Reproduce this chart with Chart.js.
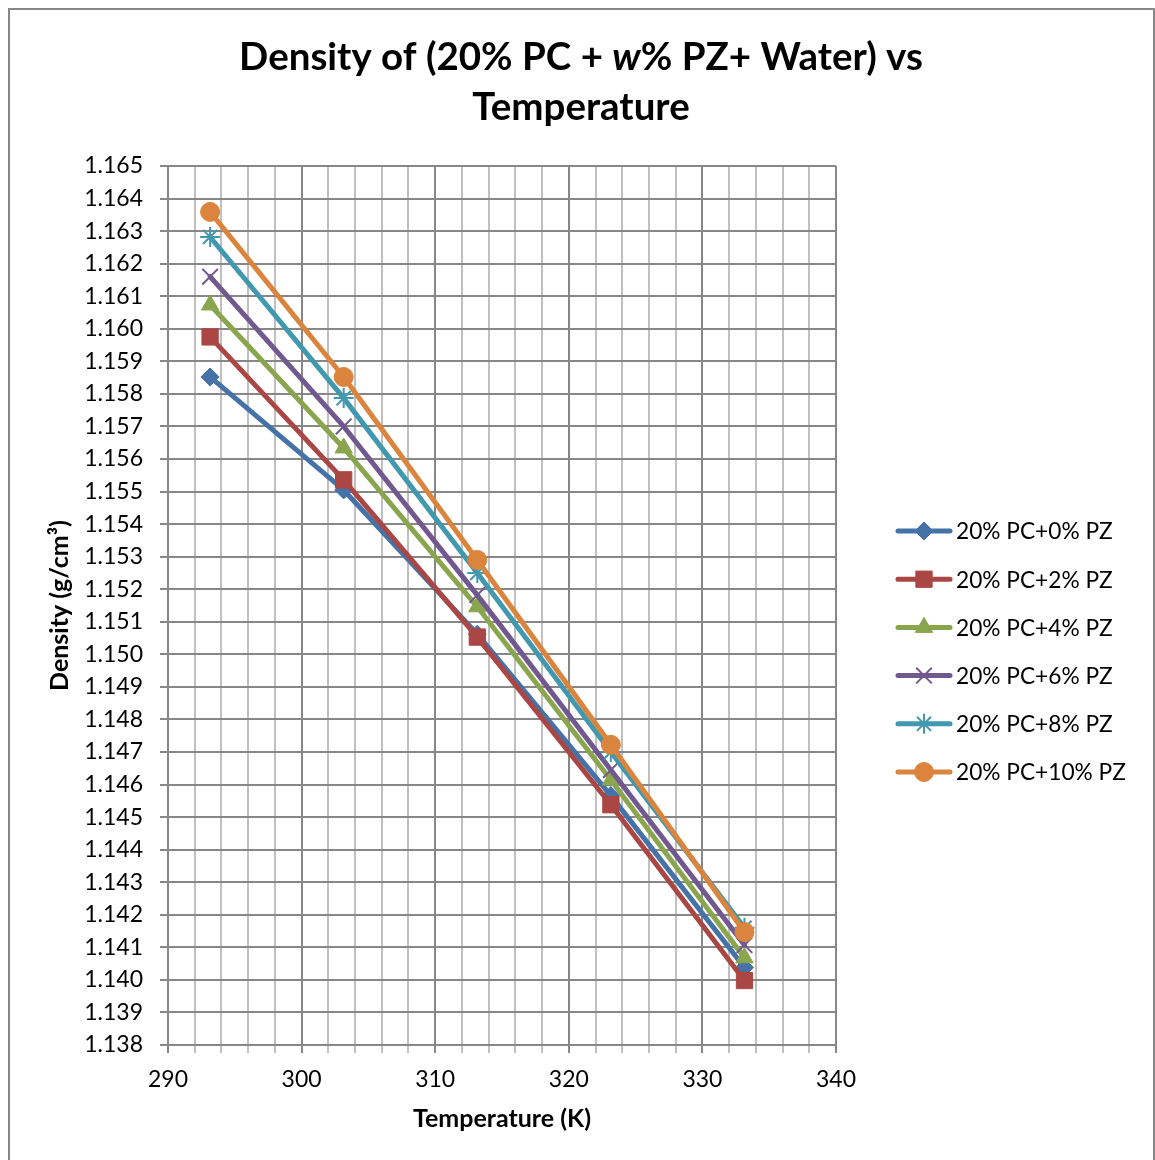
<!DOCTYPE html>
<html>
<head>
<meta charset="utf-8">
<title>Density vs Temperature</title>
<script src="https://cdn.jsdelivr.net/npm/chart.js@4.4.1/dist/chart.umd.min.js"></script>
<style>
  html, body { margin: 0; padding: 0; background: #ffffff; }
  canvas { display: block; }
</style>
</head>
<body>
<canvas id="densityChart" width="1155" height="1160"></canvas>
<script>
// Temperatures (K) at which the densities were measured
const temperatures = [293.15, 303.15, 313.15, 323.15, 333.15];

// Series names
const seriesNames = [
  '20% PC+0% PZ',
  '20% PC+2% PZ',
  '20% PC+4% PZ',
  '20% PC+6% PZ',
  '20% PC+8% PZ',
  '20% PC+10% PZ'
];

// Densities (g/cm³), one array per piperazine content
const pz0  = [1.15852, 1.15505, 1.15062, 1.14566, 1.14038];
const pz2  = [1.15975, 1.15536, 1.15053, 1.14538, 1.13998];
const pz4  = [1.16073, 1.15634, 1.15146, 1.14614, 1.14068];
const pz6  = [1.16160, 1.15700, 1.15182, 1.14645, 1.14107];
const pz8  = [1.16282, 1.15787, 1.15250, 1.14700, 1.14160];
const pz10 = [1.16359, 1.15852, 1.15290, 1.14722, 1.14147];

// Axis ticks
const yTickValues = [1.138, 1.139, 1.140, 1.141, 1.142, 1.143, 1.144, 1.145, 1.146,
  1.147, 1.148, 1.149, 1.150, 1.151, 1.152, 1.153, 1.154, 1.155, 1.156, 1.157,
  1.158, 1.159, 1.160, 1.161, 1.162, 1.163, 1.164, 1.165];
const xTickValues = [290, 292, 294, 296, 298, 300, 302, 304, 306, 308, 310, 312, 314,
  316, 318, 320, 322, 324, 326, 328, 330, 332, 334, 336, 338, 340];
const xLabelValues = [290, 300, 310, 320, 330, 340];

const seriesValues = [pz0, pz2, pz4, pz6, pz8, pz10];
const seriesColors = ['#4572A7', '#AA4643', '#89A54E', '#71588F', '#4198AF', '#DB843D'];
const markerStyles = ['rectRot', 'rect', 'triangle', 'crossRot', 'star', 'circle'];
const markerRadii  = [9, 11.5, 10, 11, 10, 9.5];
const markerBorder = [1, 1, 1, 2, 2, 1];

const FONT = 'Lato, "Open Sans", "DejaVu Sans", sans-serif';
const GRID_MAJOR = '#878787';
const GRID_MINOR = '#c0c0c0';

const datasets = seriesValues.map((vals, i) => ({
  label: seriesNames[i],
  data: temperatures.map((t, k) => ({ x: t, y: vals[k] })),
  borderColor: seriesColors[i],
  backgroundColor: seriesColors[i],
  borderWidth: 5,
  borderJoinStyle: 'round',
  borderCapStyle: 'round',
  tension: 0,
  showLine: true,
  pointStyle: markerStyles[i],
  pointRadius: markerRadii[i],
  pointHoverRadius: markerRadii[i],
  pointBackgroundColor: seriesColors[i],
  pointBorderColor: seriesColors[i],
  pointBorderWidth: markerBorder[i],
  order: seriesValues.length - 1 - i
}));

// Outer frame around the whole chart
const framePlugin = {
  id: 'frame',
  beforeDraw(chart) {
    const ctx = chart.ctx;
    ctx.save();
    ctx.fillStyle = '#ffffff';
    ctx.fillRect(0, 0, chart.width, chart.height);
    ctx.strokeStyle = '#878787';
    ctx.lineWidth = 2;
    ctx.strokeRect(9, 9, chart.width - 10, chart.height + 20);
    ctx.restore();
  }
};

// Two-line title with an italic "w"
const titlePlugin = {
  id: 'mixedTitle',
  afterDraw(chart) {
    const ctx = chart.ctx;
    const cx = 581;
    const size = 38.5;
    const bold = `bold ${size}px ${FONT}`;
    const boldItalic = `italic bold ${size}px ${FONT}`;
    const line1 = [
      { text: 'Density of (20% PC + ', font: bold },
      { text: 'w', font: boldItalic },
      { text: '% PZ+ Water) vs', font: bold }
    ];
    ctx.save();
    ctx.fillStyle = '#000000';
    ctx.textBaseline = 'middle';
    ctx.textAlign = 'left';
    let total = 0;
    line1.forEach(seg => { ctx.font = seg.font; seg.w = ctx.measureText(seg.text).width; total += seg.w; });
    let x = cx - total / 2;
    line1.forEach(seg => { ctx.font = seg.font; ctx.fillText(seg.text, x, 58); x += seg.w; });
    ctx.font = bold;
    ctx.textAlign = 'center';
    ctx.fillText('Temperature', cx, 108);
    ctx.restore();
  }
};

// Legend: line sample with marker, then the series name
const legendPlugin = {
  id: 'lineLegend',
  afterDraw(chart) {
    const ctx = chart.ctx;
    const area = chart.chartArea;
    const x0 = area.right + 62;
    const lineLen = 52;
    const yStart = area.top + 365;
    const step = 48.2;
    ctx.save();
    chart.data.datasets.forEach((ds, i) => {
      const y = yStart + i * step;
      ctx.strokeStyle = ds.borderColor;
      ctx.lineWidth = 5;
      ctx.lineCap = 'round';
      ctx.beginPath();
      ctx.moveTo(x0, y);
      ctx.lineTo(x0 + lineLen, y);
      ctx.stroke();
      ctx.fillStyle = ds.pointBackgroundColor;
      ctx.strokeStyle = ds.pointBorderColor;
      ctx.lineWidth = ds.pointBorderWidth;
      ctx.lineCap = 'butt';
      Chart.helpers.drawPoint(ctx, {
        pointStyle: ds.pointStyle,
        radius: ds.pointRadius,
        borderWidth: ds.pointBorderWidth,
        rotation: 0
      }, x0 + lineLen / 2, y);
      ctx.fillStyle = '#000000';
      ctx.font = `22.7px ${FONT}`;
      ctx.textBaseline = 'middle';
      ctx.textAlign = 'left';
      ctx.fillText(ds.label, x0 + lineLen + 6, y + 1);
    });
    ctx.restore();
  }
};

new Chart(document.getElementById('densityChart'), {
  type: 'scatter',
  data: { datasets },
  plugins: [framePlugin, titlePlugin, legendPlugin],
  options: {
    responsive: false,
    devicePixelRatio: 1,
    animation: false,
    layout: { padding: { top: 166, left: 0, right: 319, bottom: 0 } },
    plugins: {
      legend: { display: false },
      title: { display: false },
      tooltip: { enabled: false }
    },
    scales: {
      x: {
        type: 'linear',
        min: 290,
        max: 340,
        afterFit(scale) { scale.height = 115; },
        afterBuildTicks(scale) { scale.ticks = xTickValues.map(v => ({ value: v })); },
        ticks: {
          autoSkip: false,
          maxRotation: 0,
          padding: 13,
          color: '#000000',
          font: { family: FONT, size: 23 },
          callback: v => (xLabelValues.includes(v) ? String(v) : '')
        },
        grid: {
          color: c => (c.tick && xLabelValues.includes(c.tick.value) ? GRID_MAJOR : GRID_MINOR),
          tickColor: c => (c.tick && xLabelValues.includes(c.tick.value) ? GRID_MAJOR : GRID_MINOR),
          lineWidth: 2,
          tickLength: 8
        },
        border: { color: GRID_MAJOR, width: 2 },
        title: {
          display: true,
          text: 'Temperature (K)',
          color: '#000000',
          font: { family: FONT, size: 25, weight: 'bold' },
          padding: { top: 26, bottom: 26 }
        }
      },
      y: {
        type: 'linear',
        min: 1.138,
        max: 1.165,
        afterFit(scale) { scale.width = 168; },
        afterBuildTicks(scale) { scale.ticks = yTickValues.map(v => ({ value: v })); },
        ticks: {
          autoSkip: false,
          padding: 17,
          color: '#000000',
          font: { family: FONT, size: 23 },
          callback: v => Number(v).toFixed(3)
        },
        grid: {
          color: GRID_MAJOR,
          tickColor: GRID_MAJOR,
          lineWidth: 2,
          tickLength: 8
        },
        border: { color: GRID_MAJOR, width: 2 },
        title: {
          display: true,
          text: 'Density (g/cm³)',
          color: '#000000',
          font: { family: FONT, size: 25, weight: 'bold' },
          padding: { top: 45, bottom: 0 }
        }
      }
    }
  }
});
</script>
</body>
</html>
